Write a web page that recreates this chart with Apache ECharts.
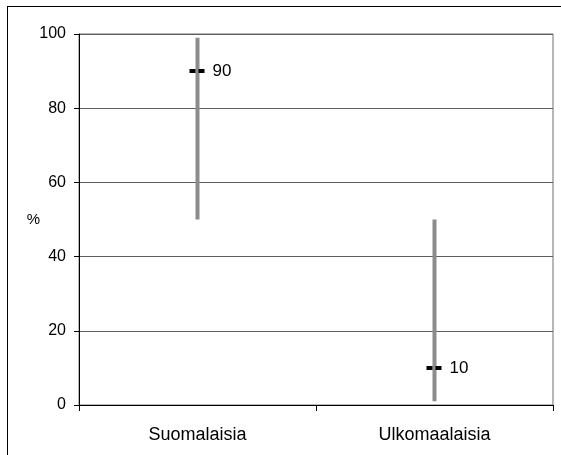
<!DOCTYPE html>
<html><head><meta charset="utf-8">
<script src="https://cdn.jsdelivr.net/npm/echarts@6/dist/echarts.min.js"></script>
<style>
html,body{margin:0;padding:0;background:#fff;}
#frame{position:absolute;left:7px;top:6px;width:600px;height:500px;border-left:1px solid #000;border-top:1px solid #000;}
#c{position:absolute;left:0;top:0;width:561px;height:455px;}
</style></head><body>
<div id="frame"></div>
<div id="c"></div>
<script>
var categories = ['Suomalaisia', 'Ulkomaalaisia'];
var rangeLow = [50, 1];
var rangeHigh = [99, 50];
var pointValues = [90, 10];
var yTicks = [0, 20, 40, 60, 80, 100];

var chart = echarts.init(document.getElementById('c'), null, {renderer: 'canvas'});
var font = 'Liberation Sans, Arial, sans-serif';
var option = {
  animation: false,
  grid: {left: 79, right: 8, top: 34, bottom: 50, show: true, borderColor: '#6e6e6e', borderWidth: 1, backgroundColor: 'transparent'},
  xAxis: {
    type: 'category', data: categories, boundaryGap: true,
    axisLine: {lineStyle: {color: '#000', width: 1}},
    axisTick: {show: true, alignWithLabel: false, length: 6, inside: false, lineStyle: {color: '#000'}},
    axisLabel: {color: '#000', fontSize: 18, fontFamily: font, margin: 21},
    splitLine: {show: false}
  },
  yAxis: {
    type: 'value', min: 0, max: 100, interval: 20,
    name: '%', nameLocation: 'middle', nameGap: 39, nameRotate: 0, nameMoveOverlap: false,
    nameTextStyle: {color: '#000', fontSize: 15, fontFamily: font},
    axisLine: {show: true, lineStyle: {color: '#000', width: 1}},
    axisTick: {show: true, length: 5, lineStyle: {color: '#000'}},
    axisLabel: {color: '#000', fontSize: 16, fontFamily: font, margin: 13},
    splitLine: {show: true, lineStyle: {color: '#5e5e5e', width: 1}}
  },
  series: [
    {
      type: 'custom',
      data: categories.map(function(c, i){ return [i, rangeLow[i], rangeHigh[i]]; }),
      renderItem: function(params, api){
        var lo = api.coord([api.value(0), api.value(1)]);
        var hi = api.coord([api.value(0), api.value(2)]);
        return {type: 'line', shape: {x1: lo[0], y1: lo[1], x2: hi[0], y2: hi[1]},
          style: {stroke: '#8c8c8c', lineWidth: 4}};
      },
      z: 2
    },
    {
      type: 'custom',
      data: categories.map(function(c, i){ return [i, pointValues[i]]; }),
      renderItem: function(params, api){
        var p = api.coord([api.value(0), api.value(1)]);
        return {type: 'group', children: [
          {type: 'line', shape: {x1: p[0]-8, y1: p[1], x2: p[0]+8, y2: p[1]},
            style: {stroke: '#000', lineWidth: 4, lineDash: [6, 3]}},
          {type: 'text', x: p[0]+15, y: p[1], style: {text: String(api.value(1)), fill: '#000',
            font: '17px ' + font, textVerticalAlign: 'middle', verticalAlign: 'middle'}}
        ]};
      },
      z: 3
    }
  ]
};
chart.setOption(option);
</script>
</body></html>
